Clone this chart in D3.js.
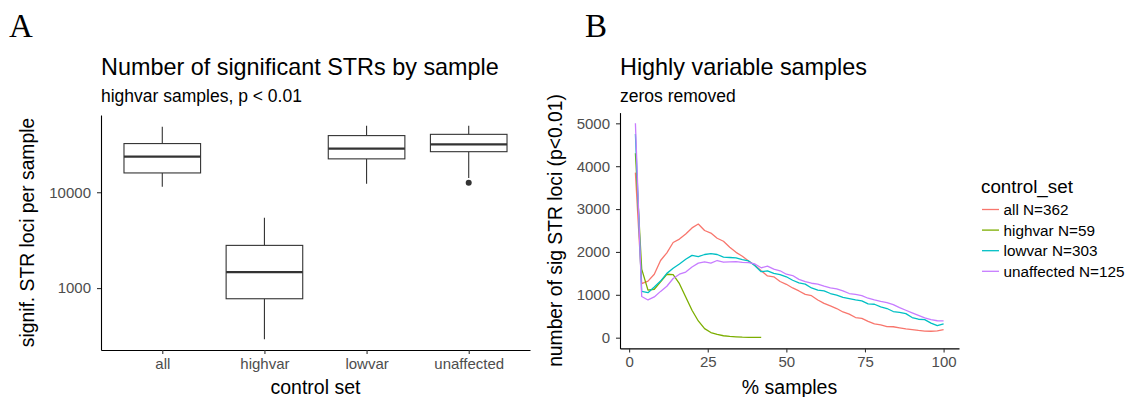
<!DOCTYPE html>
<html>
<head>
<meta charset="utf-8">
<script src="https://cdn.jsdelivr.net/npm/d3@7"></script>
<style>
  body { margin: 0; background: #fff; }
  svg text { font-family: "Liberation Sans", Arial, sans-serif; }
</style>
</head>
<body>
<svg id="chart" width="1131" height="397"></svg>
<script>
// panel A: boxplot summary per control set
const boxCategories = ["all", "highvar", "lowvar", "unaffected"];
const whiskerLow = [11400, 292, 12300, 14100];
const boxQ1 = [15900, 774, 22300, 26500];
const boxMedian = [23500, 1470, 28500, 31600];
const boxQ3 = [32200, 2790, 39000, 40200];
const whiskerHigh = [48300, 5410, 49500, 49500];
const outliers = [[], [], [], [12600]];
const boxTicks = [1000, 10000];

// panel B: lines per control set
const pctSamples = [2,4,6,8,10,12,14,16,18,20,22,24,26,28,30,32,34,36,38,40,42,44,46,48,50,
  52,54,56,58,60,62,64,66,68,70,72,74,76,78,80,82,84,86,88,90,92,94,96,98,100];
const seriesNames = ["all N=362", "highvar N=59", "lowvar N=303", "unaffected N=125"];
const seriesColors = ["#F8766D", "#7CAE00", "#00BFC4", "#C77CFF"];
const allVals = [3850,1260,1320,1480,1800,1980,2220,2300,2420,2560,2650,2500,2440,2320,2250,2110,1990,1900,1790,1690,
  1560,1440,1420,1310,1245,1160,1090,1010,980,880,800,740,680,600,550,470,450,380,320,300,
  260,255,230,205,190,170,155,150,160,190];
const highvarVals = [4300,1600,1110,1130,1300,1480,1470,1260,950,640,390,210,120,75,45,30,20,12,8,5,5];
const lowvarVals = [4750,1080,1050,1180,1320,1500,1620,1720,1830,1920,1890,1940,1960,1940,1880,1870,1860,1820,1790,1680,
  1540,1560,1500,1470,1420,1340,1280,1250,1160,1110,1090,1030,990,940,910,880,860,790,780,720,
  680,610,590,560,470,430,420,340,280,320];
const unaffectedVals = [5000,960,880,950,1080,1200,1380,1480,1530,1650,1740,1770,1740,1800,1760,1770,1775,1755,1750,1720,
  1630,1670,1600,1560,1480,1450,1360,1310,1270,1250,1200,1160,1140,1090,1030,1010,980,920,880,845,
  820,770,700,640,580,520,460,420,395,390];
const lineTicksX = [0, 25, 50, 75, 100];
const lineTicksY = [0, 1000, 2000, 3000, 4000, 5000];

const svg = d3.select("#chart");
const tickColor = "#4D4D4D";

function styleAxis(g) {
  g.select(".domain").attr("stroke", "#000").attr("stroke-width", 1.1);
  g.selectAll(".tick line").attr("stroke", "#333").attr("stroke-width", 1.1);
  g.selectAll(".tick text").attr("fill", tickColor).style("font-size", "15px")
    .style("font-family", "Liberation Sans, Arial, sans-serif");
}

// ---------- panel A ----------
svg.append("text").attr("x", 9).attr("y", 37).text("A")
  .style("font-family", "Liberation Serif, serif").style("font-size", "33px");
svg.append("text").attr("x", 101).attr("y", 75).text("Number of significant STRs by sample")
  .style("font-size", "23.4px");
svg.append("text").attr("x", 101).attr("y", 102).text("highvar samples, p < 0.01")
  .style("font-size", "17.5px");

var xA = d3.scalePoint().domain(boxCategories).range([101, 530]).padding(0.6);
var yA = d3.scaleLog().domain([Math.pow(10, 2.354), Math.pow(10, 4.806)]).range([350, 115]);
var boxW = xA.step() * 0.75;

var gA = svg.append("g");
gA.append("g").attr("transform", "translate(0,350)")
  .call(d3.axisBottom(xA).tickSize(4).tickSizeOuter(0).tickPadding(4))
  .call(styleAxis);
gA.append("g").attr("transform", "translate(101,0)")
  .call(d3.axisLeft(yA).tickValues(boxTicks).tickFormat(d3.format("d")).tickSize(4).tickSizeOuter(0).tickPadding(6))
  .call(styleAxis);

var boxes = gA.selectAll(".box").data(boxCategories).enter().append("g").attr("class", "box");
boxes.append("line")
  .attr("x1", d => xA(d)).attr("x2", d => xA(d))
  .attr("y1", (d, i) => yA(whiskerHigh[i])).attr("y2", (d, i) => yA(boxQ3[i]))
  .attr("stroke", "#333").attr("stroke-width", 1.1);
boxes.append("line")
  .attr("x1", d => xA(d)).attr("x2", d => xA(d))
  .attr("y1", (d, i) => yA(boxQ1[i])).attr("y2", (d, i) => yA(whiskerLow[i]))
  .attr("stroke", "#333").attr("stroke-width", 1.1);
boxes.append("rect")
  .attr("x", d => xA(d) - boxW / 2).attr("width", boxW)
  .attr("y", (d, i) => yA(boxQ3[i]))
  .attr("height", (d, i) => yA(boxQ1[i]) - yA(boxQ3[i]))
  .attr("fill", "#fff").attr("stroke", "#333").attr("stroke-width", 1.1);
boxes.append("line")
  .attr("x1", d => xA(d) - boxW / 2).attr("x2", d => xA(d) + boxW / 2)
  .attr("y1", (d, i) => yA(boxMedian[i])).attr("y2", (d, i) => yA(boxMedian[i]))
  .attr("stroke", "#333").attr("stroke-width", 2.3);
boxCategories.forEach(function (c, i) {
  gA.selectAll(null).data(outliers[i]).enter().append("circle")
    .attr("cx", xA(c)).attr("cy", d => yA(d)).attr("r", 3).attr("fill", "#333");
});

svg.append("text").attr("x", (101 + 530) / 2).attr("y", 394).attr("text-anchor", "middle")
  .text("control set").style("font-size", "19.5px");
svg.append("text").attr("transform", "translate(34," + (115 + 350) / 2 + ") rotate(-90)")
  .attr("text-anchor", "middle").text("signif. STR loci per sample").style("font-size", "19.3px");

// ---------- panel B ----------
svg.append("text").attr("x", 585).attr("y", 37).text("B")
  .style("font-family", "Liberation Serif, serif").style("font-size", "33px");
svg.append("text").attr("x", 620).attr("y", 75).text("Highly variable samples")
  .style("font-size", "23.4px");
svg.append("text").attr("x", 620).attr("y", 102).text("zeros removed")
  .style("font-size", "17.5px");

var xB = d3.scaleLinear().domain([-2.9, 104.9]).range([620, 959]);
var yB = d3.scaleLinear().domain([-250, 5250]).range([348.4, 112.6]);

var gB = svg.append("g");
gB.append("g").attr("transform", "translate(0,348.4)")
  .call(d3.axisBottom(xB).tickValues(lineTicksX).tickSize(4).tickSizeOuter(0).tickPadding(4))
  .call(styleAxis);
gB.append("g").attr("transform", "translate(620,0)")
  .call(d3.axisLeft(yB).tickValues(lineTicksY).tickFormat(d3.format("d")).tickSize(4).tickSizeOuter(0).tickPadding(6))
  .call(styleAxis);

var seriesVals = [allVals, highvarVals, lowvarVals, unaffectedVals];
var line = d3.line().x(d => xB(d[0])).y(d => yB(d[1]));
seriesVals.forEach(function (vals, i) {
  var pts = vals.map((v, j) => [pctSamples[j], v]);
  gB.append("path").datum(pts).attr("d", line)
    .attr("fill", "none").attr("stroke", seriesColors[i]).attr("stroke-width", 1.3)
    .attr("stroke-linejoin", "round");
});

svg.append("text").attr("x", (620 + 959) / 2).attr("y", 394).attr("text-anchor", "middle")
  .text("% samples").style("font-size", "19.5px");
svg.append("text").attr("transform", "translate(562," + (112.6 + 348.4) / 2 + ") rotate(-90)")
  .attr("text-anchor", "middle").text("number of sig STR loci (p<0.01)").style("font-size", "19.3px");

// legend
var leg = svg.append("g");
leg.append("text").attr("x", 981).attr("y", 193).text("control_set").style("font-size", "18.8px");
seriesNames.forEach(function (n, i) {
  var cy = 209.5 + i * 20.6;
  leg.append("line").attr("x1", 982).attr("x2", 999).attr("y1", cy).attr("y2", cy)
    .attr("stroke", seriesColors[i]).attr("stroke-width", 1.3);
  leg.append("text").attr("x", 1003.5).attr("y", cy + 5.5).text(n).style("font-size", "15.3px");
});
</script>
</body>
</html>
